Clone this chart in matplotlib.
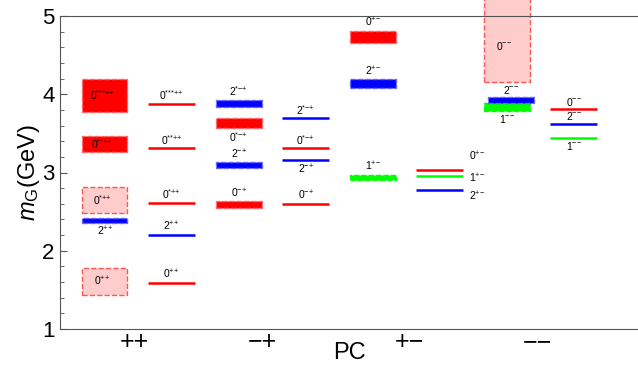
import matplotlib
matplotlib.use('Agg')
import matplotlib.pyplot as plt
from matplotlib.patches import Rectangle

plt.rcParams['font.family'] = ['Liberation Sans', 'DejaVu Sans']
plt.rcParams['mathtext.fontset'] = 'custom'
plt.rcParams['mathtext.rm'] = 'Liberation Sans'
plt.rcParams['mathtext.it'] = 'Liberation Sans:italic'

RED, BLUE, GREEN, PINK = '#ff0000', '#0000ff', '#00ff00', '#ffcccc'


def state(j, sup):
    # J^{PC} label with tight superscript (no binary-operator spacing)
    return '$' + j + '^{' + ''.join('{' + ch + '}' for ch in sup) + '}$'


# PC channels
pc_labels = ['++', '\u2212+', '+\u2212', '\u2212\u2212']
pc_ticks = [0.576, 1.573, 2.717, 3.714]
group_x = [0.17, 1.215, 2.258, 3.303]

# lattice results (boxes)
box_group = [0, 0, 0, 0, 0,
             1, 1, 1, 1,
             2, 2, 2,
             3, 3, 3]
box_label = [('0', '++'), ('2', '++'), ('0', '*++'), ('0', '**++'), ('0', '***++'),
             ('0', '-+'), ('2', '-+'), ('0', '*-+'), ('2', '*-+'),
             ('1', '+-'), ('2', '+-'), ('0', '+-'),
             ('1', '--'), ('2', '--'), ('0', '--')]
box_lo = [1.44, 2.36, 2.48, 3.26, 3.77,
          2.54, 3.06, 3.57, 3.835,
          2.90, 4.08, 4.66,
          3.79, 3.886, 4.154]
box_hi = [1.78, 2.42, 2.82, 3.47, 4.20,
          2.63, 3.13, 3.695, 3.93,
          2.97, 4.19, 4.81,
          3.894, 3.96, 5.35]
box_col = ['pink', 'blue', 'pink', 'red', 'red',
           'red', 'blue', 'red', 'blue',
           'green', 'blue', 'red',
           'green', 'blue', 'pink']
box_pos = ['in', 'below', 'in', 'in', 'in',
           'above', 'above', 'below', 'above',
           'above', 'above', 'above',
           'below', 'above', 'in']

# model predictions (lines)
line_group = [0, 0, 0, 0, 0,
              1, 1, 1, 1,
              2, 2, 2,
              3, 3, 3]
line_label = [('0', '++'), ('2', '++'), ('0', '*++'), ('0', '**++'), ('0', '***++'),
              ('0', '-+'), ('2', '-+'), ('0', '*-+'), ('2', '*-+'),
              ('0', '+-'), ('1', '+-'), ('2', '+-'),
              ('0', '--'), ('2', '--'), ('1', '--')]
line_val = [1.59, 2.207, 2.61, 3.307, 3.878,
            2.60, 3.155, 3.31, 3.695,
            3.036, 2.95, 2.78,
            3.81, 3.62, 3.44]
line_col = ['red', 'blue', 'red', 'red', 'red',
            'red', 'blue', 'red', 'blue',
            'red', 'green', 'blue',
            'red', 'blue', 'green']
line_pos = ['above', 'above', 'above', 'above', 'above',
            'above', 'below', 'above', 'above',
            'right', 'right', 'right',
            'above', 'above', 'below']
right_label_y = [3.2, 2.93, 2.7]

colours = {'red': RED, 'blue': BLUE, 'green': GREEN, 'pink': PINK}
edges = {'red': '#ff6666', 'blue': '#6666ff', 'green': GREEN, 'pink': '#ff5555'}

fig = plt.figure(figsize=(6.38, 3.67), dpi=100)
ax = fig.add_axes([60 / 638, 38 / 367, 578 / 638, 313 / 367])

bw, lo_off, lw_ = 0.355, 0.515, 0.365
fs = 7.5
for g, lab, lo, hi, c, pos in zip(box_group, box_label, box_lo, box_hi, box_col, box_pos):
    x0 = group_x[g]
    if lab == ('2', '--'):
        x0 += 0.031
    ax.add_patch(Rectangle((x0, lo), bw, hi - lo, facecolor=colours[c],
                           edgecolor=edges[c], linestyle='--', linewidth=1.0,
                           clip_on=False, zorder=1))
    xc = x0 + bw / 2
    txt = state(*lab)
    if pos == 'in':
        yl = (lo + hi) / 2 if hi < 5 else 4.62
        ax.text(xc - 0.02, yl, txt, fontsize=fs, ha='center', va='center')
    elif pos == 'above':
        ax.text(xc, hi + 0.02, txt, fontsize=fs, ha='center', va='bottom')
    else:
        ax.text(xc, lo - 0.03, txt, fontsize=fs, ha='center', va='top')

ri = 0
for g, lab, v, c, pos in zip(line_group, line_label, line_val, line_col, line_pos):
    x0 = group_x[g] + lo_off
    ax.plot([x0, x0 + lw_], [v, v], color=colours[c], linewidth=1.8,
            solid_capstyle='butt')
    xc = x0 + lw_ / 2
    txt = state(*lab)
    if pos == 'above':
        ax.text(xc, v + 0.02, txt, fontsize=fs, ha='center', va='bottom')
    elif pos == 'below':
        ax.text(xc, v - 0.03, txt, fontsize=fs, ha='center', va='top')
    else:
        ax.text(x0 + lw_ + 0.05, right_label_y[ri], txt, fontsize=fs,
                ha='left', va='center')
        ri += 1

ax.set_xlim(0, 4.5)
ax.set_ylim(1, 5)
ax.set_yticks([1, 2, 3, 4, 5])
ax.set_yticks([1 + 0.2 * i for i in range(21)], minor=True)
ax.tick_params(axis='y', which='major', direction='in', length=5,
               labelsize=16, color='#555555', pad=4)
ax.tick_params(axis='y', which='minor', direction='in', length=3,
               color='#555555')
ax.set_xticks(pc_ticks)
ax.set_xticklabels(pc_labels)
ax.tick_params(axis='x', length=0, labelsize=18, pad=1)
ax.set_xlabel('PC', fontsize=17, labelpad=-9)
ax.set_ylabel(r'$m_{\mathrm{G}}$(GeV)', fontsize=17, labelpad=0)
for s in ['top', 'bottom', 'left']:
    ax.spines[s].set_color('#555555')
ax.spines['right'].set_visible(False)

fig.savefig('out.png', dpi=100)
